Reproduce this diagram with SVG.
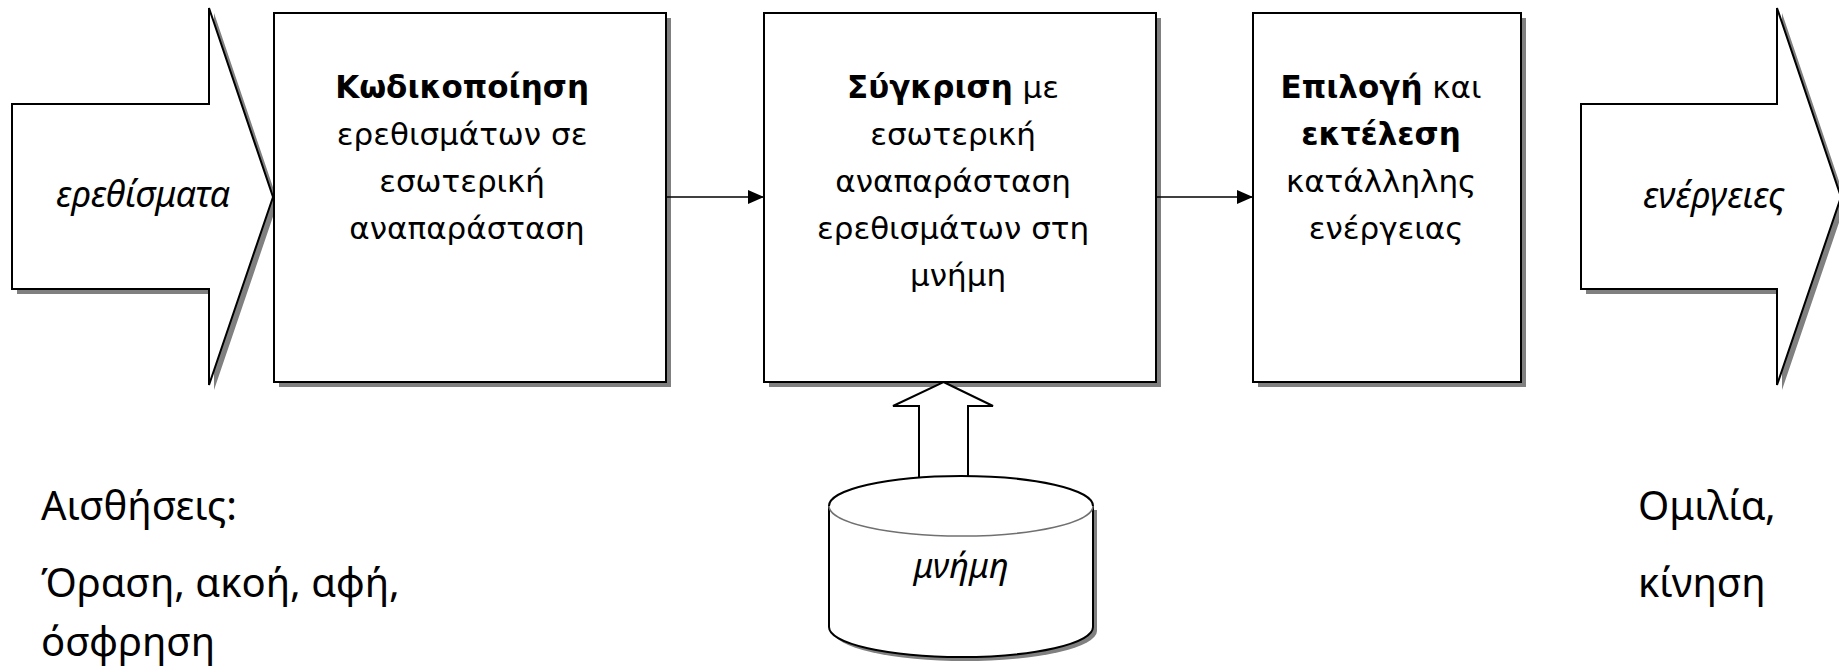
<svg xmlns="http://www.w3.org/2000/svg" width="1839" height="667" viewBox="0 0 1839 667">
  <style>
    .shape { fill: #ffffff; stroke: #000000; stroke-width: 2; stroke-linejoin: miter; }
    .shadow { fill: #808080; stroke: none; }
    .box-text { font-family: "DejaVu Sans", Verdana, sans-serif; font-size: 31px; fill: #000000; text-anchor: middle; }
    .box-text .b { font-weight: bold; }
    .io-text { font-family: "Noto Sans", "Open Sans", sans-serif; font-style: italic; font-size: 36px; fill: #000000; text-anchor: middle; }
    .mem-text { font-family: "Noto Sans", "Open Sans", sans-serif; font-style: italic; font-size: 34px; fill: #000000; text-anchor: middle; }
    .note { font-family: "Noto Sans", "Open Sans", sans-serif; font-size: 40px; fill: #000000; }
    .link { stroke: #000000; stroke-width: 1.5; fill: none; }
  </style>
  <defs>
    <marker id="arrowhead" viewBox="0 0 16 14" refX="16" refY="7" markerWidth="16" markerHeight="14" markerUnits="userSpaceOnUse" orient="auto">
      <path d="M0,0 L16,7 L0,14 Z" fill="#000000"/>
    </marker>
  </defs>

  <rect width="1839" height="667" fill="#ffffff"/>

  <!-- input block arrow -->
  <g id="input-arrow">
    <polygon class="shadow" points="17,109 214,109 214,13 278,202 214,390 214,294 17,294"/>
    <polygon class="shape" points="12,104 209,104 209,8 273,197 209,385 209,289 12,289"/>
    <text class="io-text" x="143" y="207">ερεθίσματα</text>
  </g>

  <!-- encoding stage -->
  <g id="encode">
    <rect class="shadow" x="279" y="18" width="392" height="369"/>
    <rect class="shape" x="274" y="13" width="392" height="369"/>
    <text class="box-text" x="467" y="98">
      <tspan class="b">Κωδικοποίηση</tspan>
      <tspan x="467" dy="47">ερεθισμάτων σε</tspan>
      <tspan x="467" dy="47">εσωτερική</tspan>
      <tspan x="467" dy="47">αναπαράσταση</tspan>
    </text>
  </g>

  <!-- comparison stage -->
  <g id="compare">
    <rect class="shadow" x="769" y="18" width="392" height="369"/>
    <rect class="shape" x="764" y="13" width="392" height="369"/>
    <text class="box-text" x="958" y="98">
      <tspan class="b">Σύγκριση</tspan> με
      <tspan x="958" dy="47">εσωτερική</tspan>
      <tspan x="958" dy="47">αναπαράσταση</tspan>
      <tspan x="958" dy="47">ερεθισμάτων στη</tspan>
      <tspan x="958" dy="47">μνήμη</tspan>
    </text>
  </g>

  <!-- selection / execution stage -->
  <g id="select">
    <rect class="shadow" x="1258" y="18" width="268" height="369"/>
    <rect class="shape" x="1253" y="13" width="268" height="369"/>
    <text class="box-text" x="1386" y="98">
      <tspan class="b">Επιλογή</tspan> και
      <tspan x="1386" dy="47" class="b">εκτέλεση</tspan>
      <tspan x="1386" dy="47">κατάλληλης</tspan>
      <tspan x="1386" dy="47">ενέργειας</tspan>
    </text>
  </g>

  <!-- output block arrow -->
  <g id="output-arrow">
    <polygon class="shadow" points="1586,109 1782,109 1782,13 1846,202 1782,390 1782,294 1586,294"/>
    <polygon class="shape" points="1581,104 1777,104 1777,8 1841,197 1777,385 1777,289 1581,289"/>
    <text class="io-text" x="1714" y="208">ενέργειες</text>
  </g>

  <!-- memory store -->
  <g id="memory">
    <polygon class="shape" points="943.5,382 993,406 968,406 968,482 919,482 919,406 893,406"/>
    <path class="shadow" d="M833,510 L833,631 A132,30 0 0 0 1097,631 L1097,510 Z"/>
    <path class="shape" d="M829,506 L829,627 A132,30 0 0 0 1093,627 L1093,506"/>
    <ellipse cx="961" cy="506" rx="132" ry="30" fill="#ffffff" stroke="none"/>
    <path d="M829,506 A132,30 0 0 1 1093,506" fill="none" stroke="#000000" stroke-width="2"/>
    <path d="M829,506 A132,30 0 0 0 1093,506" fill="none" stroke="#707070" stroke-width="1.5"/>
    <text class="mem-text" x="961" y="578">μνήμη</text>
  </g>

  <!-- side notes -->
  <g id="senses">
    <text class="note" x="41" y="520">Αισθήσεις:</text>
    <text class="note" x="41" y="597">Όραση, ακοή, αφή,</text>
    <text class="note" x="41" y="656">όσφρηση</text>
  </g>
  <g id="actions">
    <text class="note" x="1638" y="520">Ομιλία,</text>
    <text class="note" x="1638" y="597">κίνηση</text>
  </g>

  <!-- connectors -->
  <g id="connectors">
    <line class="link" x1="666" y1="197" x2="764" y2="197" marker-end="url(#arrowhead)"/>
    <line class="link" x1="1156" y1="197" x2="1253" y2="197" marker-end="url(#arrowhead)"/>
  </g>
</svg>
